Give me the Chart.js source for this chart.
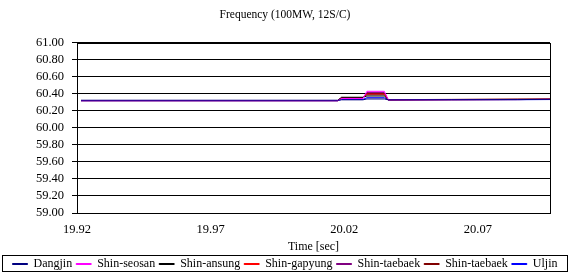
<!DOCTYPE html>
<html>
<head>
<meta charset="utf-8">
<script src="https://cdn.jsdelivr.net/npm/chart.js@4/dist/chart.umd.min.js"></script>
<style>
  html, body { margin: 0; padding: 0; background: #fff; }
  #wrap { width: 570px; height: 272px; }
</style>
</head>
<body>
<div id="wrap"><canvas id="freq"></canvas></div>
<script>
// time axis [sec]
const times = [19.9215, 20.0175, 20.0190, 20.0270, 20.0285, 20.0350, 20.0365, 20.0600, 20.0850, 20.0970];

const seriesNames = ['Dangjin', 'Shin-seosan', 'Shin-ansung', 'Shin-gapyung', 'Shin-taebaek', 'Shin-taebaek', 'Uljin'];
const seriesColors = ['#000080', '#FF00FF', '#000000', '#FF0000', '#800080', '#800000', '#0000FF'];

// frequency [Hz]
const dangjin     = [60.325, 60.325, 60.330, 60.330, 60.340, 60.340, 60.330, 60.332, 60.333, 60.335];
const shinSeosan  = [60.320, 60.320, 60.345, 60.345, 60.430, 60.430, 60.330, 60.332, 60.333, 60.335];
const shinAnsung  = [60.320, 60.320, 60.360, 60.360, 60.375, 60.375, 60.330, 60.332, 60.333, 60.335];
const shinGapyung = [60.320, 60.320, 60.350, 60.350, 60.400, 60.400, 60.330, 60.332, 60.333, 60.335];
const shinTaebaek1 = [60.322, 60.322, 60.350, 60.350, 60.415, 60.415, 60.330, 60.332, 60.334, 60.336];
const shinTaebaek2 = [60.322, 60.322, 60.355, 60.355, 60.390, 60.390, 60.332, 60.335, 60.340, 60.342];
const uljin       = [60.318, 60.318, 60.335, 60.335, 60.355, 60.355, 60.328, 60.330, 60.331, 60.333];

const xTicks = [19.92, 19.97, 20.02, 20.07];

const allSeries = [dangjin, shinSeosan, shinAnsung, shinGapyung, shinTaebaek1, shinTaebaek2, uljin];

const datasets = allSeries.map((vals, i) => ({
    label: seriesNames[i],
    data: vals.map((v, j) => ({x: times[j], y: v})),
    borderColor: seriesColors[i],
    backgroundColor: seriesColors[i],
    borderWidth: 1,
    pointRadius: 0,
    tension: 0,
    fill: false
}));

const serif = 'Liberation Serif, Times New Roman, serif';

// frame round the plot and box round the legend
const frames = {
    id: 'frames',
    afterInit(chart) {
        const fit = chart.legend.fit;
        chart.legend.fit = function () {
            fit.call(this);
            this.height = 18;
        };
    },
    afterDraw(chart) {
        const ctx = chart.ctx;
        const a = chart.chartArea;
        ctx.save();
        ctx.strokeStyle = '#000';
        ctx.lineWidth = 1;
        ctx.strokeRect(Math.round(a.left) + 0.5, Math.round(a.top) + 0.5, Math.round(a.right - a.left), Math.round(a.bottom - a.top));
        const lg = chart.legend;
        ctx.strokeRect(2.5, lg.top + 1.5, 565, lg.height - 2);
        ctx.restore();
    }
};

new Chart(document.getElementById('freq'), {
    type: 'line',
    data: {datasets: datasets},
    plugins: [frames],
    options: {
        responsive: true,
        maintainAspectRatio: false,
        animation: false,
        layout: {padding: 0},
        scales: {
            x: {
                type: 'linear',
                min: 19.92,
                max: 20.097,
                afterBuildTicks: (scale) => {
                    scale.ticks = xTicks.map(v => ({value: v}));
                },
                afterFit: (scale) => { scale.height = 41; },
                grid: {display: false, drawTicks: false},
                border: {display: true, color: '#000'},
                ticks: {
                    padding: 9,
                    color: '#000',
                    autoSkip: false,
                    maxRotation: 0,
                    font: {family: serif, size: 12.5},
                    callback: (v) => v.toFixed(2)
                },
                title: {
                    display: true,
                    text: 'Time [sec]',
                    color: '#000',
                    font: {family: serif, size: 12},
                    padding: {top: 2, bottom: 0}
                }
            },
            y: {
                min: 59,
                max: 61,
                afterFit: (scale) => { scale.width = 77; },
                grid: {color: '#000', lineWidth: 1, drawTicks: true, tickLength: 5},
                border: {display: true, color: '#000'},
                ticks: {
                    stepSize: 0.2,
                    autoSkip: false,
                    padding: 8,
                    color: '#000',
                    font: {family: serif, size: 12.5},
                    callback: (v) => v.toFixed(2)
                }
            },
            // empty right-hand strip so the plot stops short of the canvas edge
            yr: {
                position: 'right',
                afterFit: (scale) => { scale.width = 20; },
                grid: {display: false, drawTicks: false},
                border: {display: false},
                ticks: {display: false}
            }
        },
        plugins: {
            title: {
                display: true,
                text: 'Frequency (100MW, 12S/C)',
                color: '#000',
                font: {family: serif, size: 11.5, weight: 'normal'},
                padding: {top: 8, bottom: 21}
            },
            legend: {
                position: 'bottom',
                labels: {
                    boxWidth: 15,
                    boxHeight: 1,
                    padding: 4,
                    color: '#000',
                    font: {family: serif, size: 12}
                }
            },
            tooltip: {enabled: false}
        }
    }
});
</script>
</body>
</html>
